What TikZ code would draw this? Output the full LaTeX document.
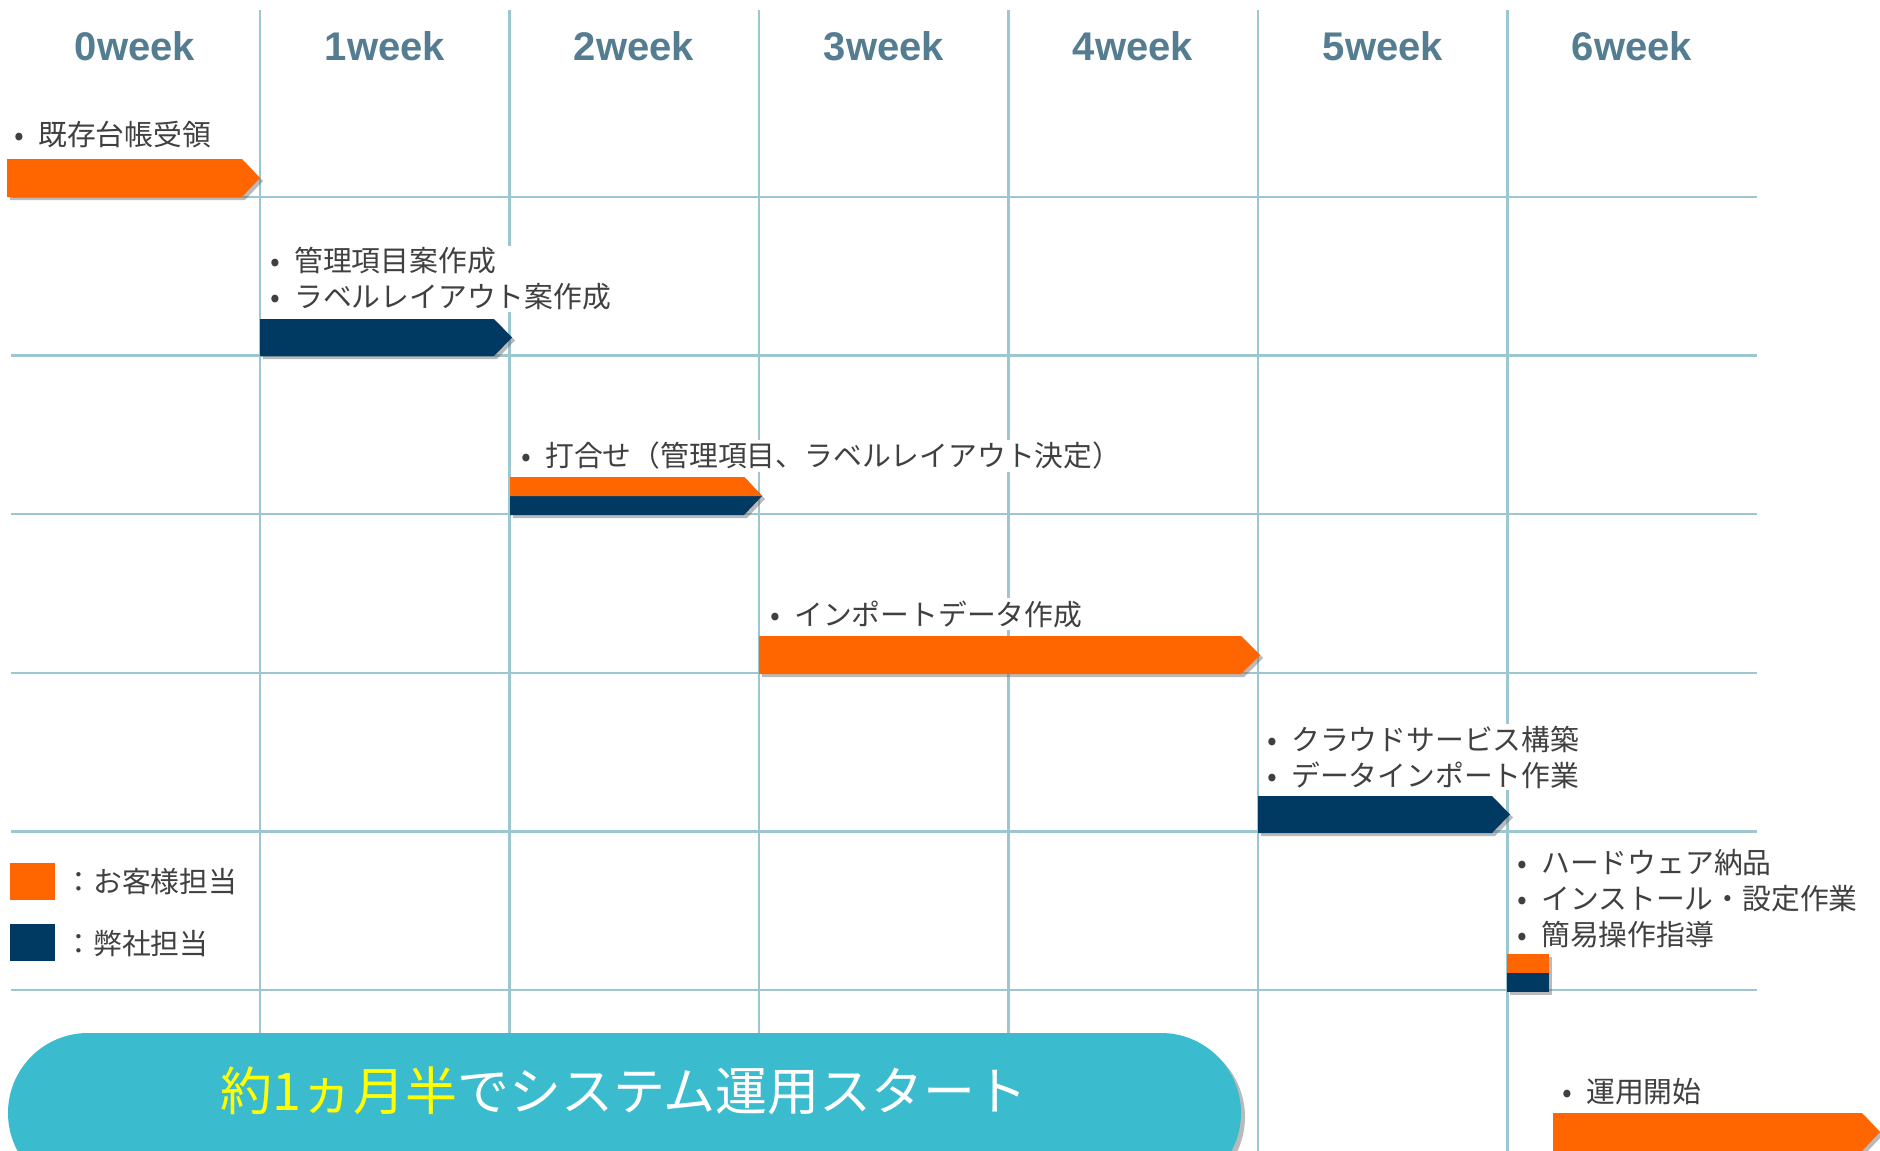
\documentclass[tikz,border=0pt]{standalone}
\usepackage{fontspec}
\setmainfont{Noto Sans CJK JP}
\newfontfamily\hdrfont{Liberation Sans}
\usetikzlibrary{shadows}
\definecolor{orng}{HTML}{FF6600}
\definecolor{navyc}{HTML}{003A63}
\definecolor{gridc}{HTML}{9CC7D1}
\definecolor{hdrc}{HTML}{547D91}
\definecolor{txtc}{HTML}{404040}
\definecolor{bannerc}{HTML}{3BBBCE}
\definecolor{yelc}{HTML}{FFFF00}
\newcommand\bl{\makebox[9pt][c]{•}\hspace{5pt}}
\tikzset{
  gridline/.style={draw=gridc, line width=1.2pt},
  hdr/.style={font=\hdrfont\bfseries\fontsize{20}{24}\selectfont, text=hdrc},
  task/.style={anchor=west, fill=white, inner xsep=0pt, inner ysep=1pt, align=left, text=txtc, font=\fontsize{14.4}{18}\selectfont},
  barshadow/.style={drop shadow={shadow xshift=1.5pt, shadow yshift=-1.5pt, opacity=0.45, fill=black!60}},
}
\begin{document}
\begin{tikzpicture}[x=0.5pt, y=-0.5pt]
\useasboundingbox (0,0) rectangle (1880,1151);
\clip (0,0) rectangle (1880,1151);
\fill[white] (0,0) rectangle (1880,1151);
% grid
\foreach \xx in {260,509.5,759,1008.5,1258,1507.5}
  \draw[gridline] (\xx,10) -- (\xx,1151);
\foreach \yy in {197,355.6,514.2,672.8,831.4,990}
  \draw[gridline] (11,\yy) -- (1757,\yy);
% headers
\node[hdr] (h0) at (135,46) {0week};
\node[hdr] (h1) at (385,46) {1week};
\node[hdr] (h2) at (634,46) {2week};
\node[hdr] (h3) at (884,46) {3week};
\node[hdr] (h4) at (1133,46) {4week};
\node[hdr] (h5) at (1383,46) {5week};
\node[hdr] (h6) at (1632,46) {6week};
% bars
\fill[orng, barshadow] (7,159) -- (242,159) -- (260,178) -- (242,197) -- (7,197) -- cycle;
\fill[navyc, barshadow] (260,319) -- (494,319) -- (512,337.5) -- (494,356) -- (260,356) -- cycle;
\fill[navyc, barshadow] (510,477) -- (744,477) -- (762,496) -- (744,515) -- (510,515) -- cycle;
\fill[orng] (510,477) -- (744,477) -- (762,496) -- (510,496) -- cycle;
\fill[orng, barshadow] (759,636) -- (1241,636) -- (1260,655) -- (1241,674) -- (759,674) -- cycle;
\fill[navyc, barshadow] (1258,796) -- (1492,796) -- (1510,814.5) -- (1492,833) -- (1258,833) -- cycle;
\fill[navyc, barshadow] (1507,954) rectangle (1549,992);
\fill[orng] (1507,954) rectangle (1549,973);
\fill[orng, barshadow] (1553,1113) -- (1862,1113) -- (1880,1132) -- (1862,1151) -- (1553,1151) -- cycle;
% legend
\fill[orng] (10,863) rectangle (55,900);
\fill[navyc] (10,924) rectangle (55,961);
\node[task, fill=none] (l1) at (64,882) {：お客様担当};
\node[task, fill=none] (l2) at (64,944) {：弊社担当};
% task labels
\node[task] (t1) at (10,135) {\bl 既存台帳受領};
\node[task] (t2) at (266,279) {\bl 管理項目案作成\\\bl ラベルレイアウト案作成};
\node[task] (t3) at (517,456) {\bl 打合せ（管理項目、ラベルレイアウト決定）};
\node[task] (t4) at (766,614) {\bl インポートデータ作成};
\node[task] (t5) at (1263,757) {\bl クラウドサービス構築\\\bl データインポート作業};
\node[task] (t6) at (1513,898.5) {\bl ハードウェア納品\\\bl インストール・設定作業\\\bl 簡易操作指導};
\node[task] (t7) at (1558,1092) {\bl 運用開始};
% banner
\path[fill=bannerc, rounded corners=40pt, drop shadow={shadow xshift=2pt, shadow yshift=-2pt, opacity=0.45, fill=black!60}] (8,1033) rectangle (1241,1193);
\node[font=\fontsize{26}{30}\selectfont, text=white] (banner) at (624,1091) {\textcolor{yelc}{約1ヵ月半}でシステム運用スタート};
\end{tikzpicture}
\end{document}
